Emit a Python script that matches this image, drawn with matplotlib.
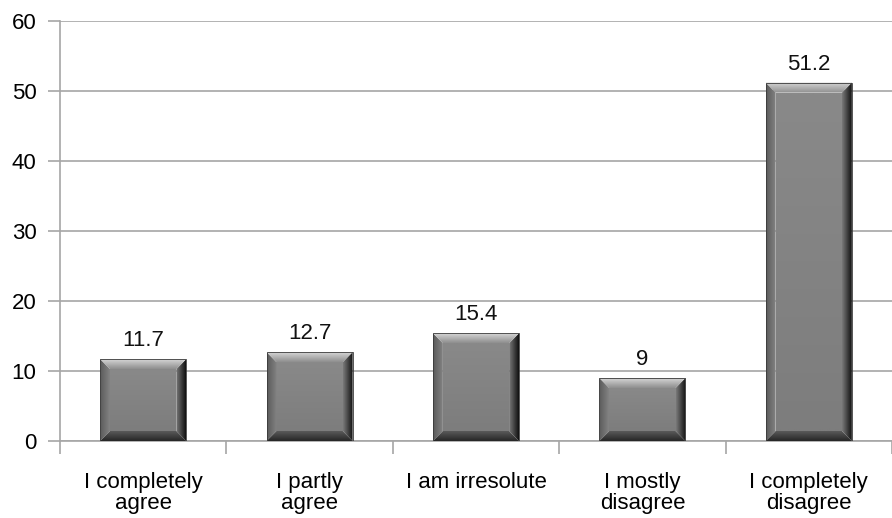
import numpy as np
import matplotlib
matplotlib.use("Agg")
import matplotlib.pyplot as plt
from matplotlib.patches import Polygon

categories = ["I completely\nagree", "I partly\nagree", "I am irresolute",
              "I mostly\ndisagree", "I completely\ndisagree"]
values = [11.7, 12.7, 15.4, 9, 51.2]
yticks = [0, 10, 20, 30, 40, 50, 60]

plt.rcParams["font.family"] = ["Liberation Sans", "DejaVu Sans"]

W, H, DPI = 892, 518, 100
fig = plt.figure(figsize=(W / DPI, H / DPI), dpi=DPI)
left_px, right_px, top_px, bot_px = 60, 892, 21, 441
ax = fig.add_axes([left_px / W, 1 - bot_px / H,
                   (right_px - left_px) / W, (bot_px - top_px) / H])

xmin, xmax = -0.5, 4.44
ymin, ymax = 0, 60
ppx = (right_px - left_px) / (xmax - xmin)
ppy = (bot_px - top_px) / (ymax - ymin)

bar_w = 0.517
bev = 10.0
bx, by = bev / ppx, bev / ppy


def grad_fill(poly_pts, c_start, c_end, direction, z):
    pts = np.array(poly_pts)
    x0, x1 = pts[:, 0].min(), pts[:, 0].max()
    y0, y1 = pts[:, 1].min(), pts[:, 1].max()
    t = np.linspace(0, 1, 64)
    c0 = np.array(matplotlib.colors.to_rgb(c_start))
    c1 = np.array(matplotlib.colors.to_rgb(c_end))
    cols = c0[None, :] * (1 - t[:, None]) + c1[None, :] * t[:, None]
    if direction == "h":   # left -> right
        img = cols[None, :, :]
    else:                  # top -> bottom
        img = cols[:, None, :]
    im = ax.imshow(img, extent=[x0, x1, y0, y1], origin="upper",
                   aspect="auto", interpolation="bilinear", zorder=z)
    patch = Polygon(poly_pts, closed=True, transform=ax.transData,
                    facecolor="none", edgecolor="none")
    ax.add_patch(patch)
    im.set_clip_path(patch)


for i, v in enumerate(values):
    x0, x1 = i - bar_w / 2, i + bar_w / 2
    b = min(by, v / 2.2)
    face = [(x0 + bx, b), (x1 - bx, b), (x1 - bx, v - b), (x0 + bx, v - b)]
    top = [(x0, v), (x1, v), (x1 - bx, v - b), (x0 + bx, v - b)]
    bottom = [(x0, 0), (x1, 0), (x1 - bx, b), (x0 + bx, b)]
    lft = [(x0, 0), (x0, v), (x0 + bx, v - b), (x0 + bx, b)]
    rgt = [(x1, 0), (x1, v), (x1 - bx, v - b), (x1 - bx, b)]
    grad_fill(face, "#898989", "#7d7d7d", "v", 3)
    grad_fill(lft, "#5a5a5a", "#838383", "h", 3)
    grad_fill(rgt, "#7a7a7a", "#101010", "h", 3)
    grad_fill(top, "#d6d6d6", "#8e8e8e", "v", 3.1)
    grad_fill(bottom, "#5a5a5a", "#262626", "v", 3.1)
    outline = Polygon([(x0, 0), (x0, v), (x1, v), (x1, 0)], closed=True,
                      facecolor="none", edgecolor="#3a3a3a", lw=0.6, zorder=3.2)
    ax.add_patch(outline)
    ax.text(i, v + 8 / ppy, f"{v:g}", ha="center", va="bottom",
            fontsize=16, color="#111111", zorder=4)

ax.set_xlim(xmin, xmax)
ax.set_ylim(ymin, ymax)

ax.set_yticks(yticks)
ax.set_yticklabels([str(t) for t in yticks])
ax.yaxis.grid(True, color="#a6a6a6", lw=1.2)
ax.set_axisbelow(True)

ax.set_xticks([k + 0.5 for k in range(-1, len(values))])
ax.set_xticklabels([])
ax.set_xticks(range(len(values)), minor=True)
ax.set_xticklabels(categories, minor=True, fontsize=16, linespacing=1.0)
ax.tick_params(axis="x", which="major", length=9, width=1.2, color="#a6a6a6")
ax.tick_params(axis="x", which="minor", length=0, pad=22)
ax.tick_params(axis="y", length=9, width=1.2, color="#a6a6a6",
               labelsize=16, pad=8)

for s in ["top", "right"]:
    ax.spines[s].set_visible(False)
for s in ["left", "bottom"]:
    ax.spines[s].set_color("#a6a6a6")
    ax.spines[s].set_linewidth(1.2)

fig.savefig("out.png", dpi=DPI)
